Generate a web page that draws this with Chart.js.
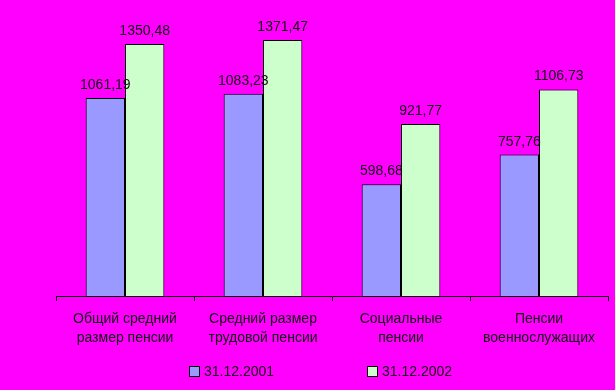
<!DOCTYPE html>
<html><head><meta charset="utf-8">
<script src="https://cdn.jsdelivr.net/npm/chart.js@4"></script>
<style>html,body{margin:0;padding:0;background:#FF00FF;}#w{width:615px;height:390px;}</style>
</head><body><div id="w"><canvas id="c"></canvas></div>
<script>
const categories = [["Общий средний","размер пенсии"],["Средний размер","трудовой пенсии"],["Социальные","пенсии"],["Пенсии","военнослужащих"]];
const seriesNames = ["31.12.2001","31.12.2002"];
const values2001 = [1061.19, 1083.23, 598.68, 757.76];
const values2002 = [1350.48, 1371.47, 921.77, 1106.73];
const valueLabels2001 = ["1061,19","1083,23","598,68","757,76"];
const valueLabels2002 = ["1350,48","1371,47","921,77","1106,73"];
const FONT = "'Liberation Sans', Arial, sans-serif";
const TEXT = "#111";

const valueLabelPlugin = {
  id: 'vl',
  afterDatasetsDraw(chart) {
    const ctx = chart.ctx;
    ctx.save();
    ctx.font = "14px " + FONT;
    ctx.fillStyle = TEXT;
    ctx.textAlign = "center";
    ctx.textBaseline = "alphabetic";
    const labs = [valueLabels2001, valueLabels2002];
    chart.data.datasets.forEach((ds, di) => {
      chart.getDatasetMeta(di).data.forEach((bar, i) => {
        ctx.fillText(labs[di][i], bar.x, bar.y - 9);
      });
    });
    ctx.restore();
  }
};
const legendPlugin = {
  id: 'lg',
  afterDraw(chart) {
    const ctx = chart.ctx;
    ctx.save();
    ctx.font = "14px " + FONT;
    ctx.textBaseline = "middle";
    const xs = [189, 367];
    const y = 371;
    chart.data.datasets.forEach((ds, di) => {
      ctx.fillStyle = ds.backgroundColor;
      ctx.fillRect(xs[di] + 0.5, y - 4.5, 10, 10);
      ctx.strokeStyle = "#000";
      ctx.lineWidth = 1;
      ctx.strokeRect(xs[di] + 0.5, y - 4.5, 10, 10);
      ctx.fillStyle = TEXT;
      ctx.fillText(ds.label, xs[di] + 15, y + 1);
    });
    ctx.restore();
  }
};

new Chart(document.getElementById('c'), {
  type: 'bar',
  data: {
    labels: categories,
    datasets: [
      {label: seriesNames[0], data: values2001, backgroundColor: '#9999FF', borderColor: '#000', borderWidth: 1},
      {label: seriesNames[1], data: values2002, backgroundColor: '#CCFFCC', borderColor: '#000', borderWidth: 1}
    ]
  },
  options: {
    responsive: true, maintainAspectRatio: false, animation: false,
    layout: {padding: {left: 56, right: 7, top: 16, bottom: 34}},
    plugins: {legend: {display: false}, tooltip: {enabled: false}},
    datasets: {bar: {categoryPercentage: 0.57, barPercentage: 1}},
    scales: {
      x: {
        grid: {display: true, drawOnChartArea: false, color: '#000', tickLength: 5, tickColor: '#000'},
        border: {display: true, color: '#000', width: 1},
        ticks: {color: TEXT, font: {family: FONT, size: 14, lineHeight: 1.357}, padding: 8.5, maxRotation: 0, autoSkip: false}
      },
      y: {display: false, min: 0, max: 1500}
    }
  },
  plugins: [valueLabelPlugin, legendPlugin]
});
</script></body></html>
